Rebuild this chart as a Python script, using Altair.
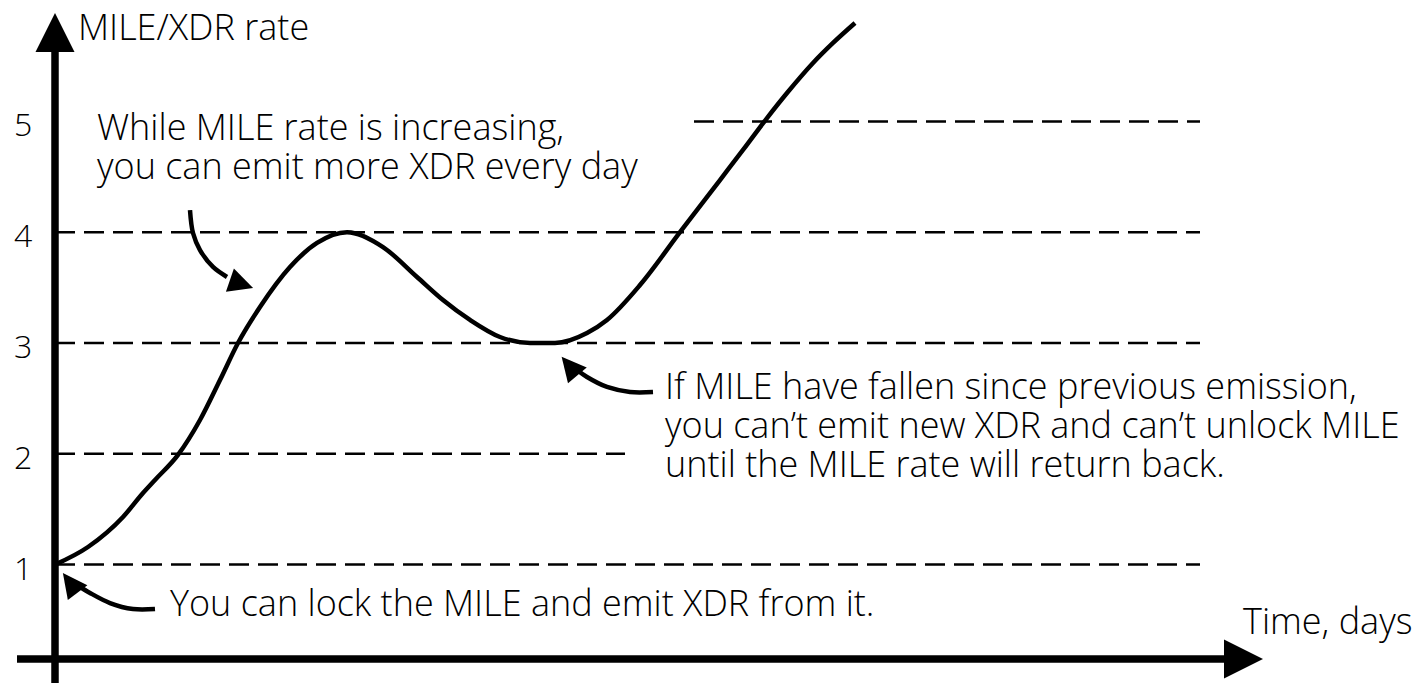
import altair as alt
import pandas as pd

# ---------------- data (x in days, y in MILE/XDR rate) ----------------
levels = [1, 2, 3, 4, 5]
level_start = [0.0, 0.0, 0.0, 0.0, 12.78]
level_end = [22.9, 11.4, 22.9, 22.9, 22.9]

curve_x = [0.0, 0.66, 1.36, 1.76, 2.0, 2.46, 2.9, 3.3, 3.66, 4.1, 4.7, 5.24, 5.84,
           6.56, 7.24, 7.76, 8.3, 8.9, 9.5, 10.0, 10.64, 11.04, 11.7, 12.5, 13.3,
           13.76, 14.24, 14.64, 15.16, 15.56, 16.0]
curve_y = [1.0, 1.159, 1.43, 1.646, 1.764, 1.99, 2.305, 2.666, 3.0, 3.325, 3.686, 3.903, 4.0,
           3.866, 3.596, 3.388, 3.208, 3.054, 3.0, 3.0, 3.09, 3.208, 3.523, 4.0, 4.471,
           4.742, 5.03, 5.256, 5.527, 5.708, 5.888]

tick_labels = ["1", "2", "3", "4", "5"]

# curved pointer arrows
arrow_a_x = [2.0, 1.56, 1.1, 0.7, 0.44]
arrow_a_y = [0.599, 0.599, 0.653, 0.744, 0.816]
arrow_b_x = [11.96, 11.5, 11.04, 10.64, 10.44]
arrow_b_y = [2.558, 2.558, 2.603, 2.693, 2.756]
arrow_c_x = [2.7, 2.76, 2.9, 3.16, 3.44]
arrow_c_y = [4.2, 3.993, 3.839, 3.686, 3.596]

head_x = [0.305, 10.29, 3.73, 0.0, 23.77]
head_y = [0.836, 2.792, 3.532, 5.802, 0.148]
head_angle = [323, 320, 109, 0, 0]
head_size = [600, 600, 600, 1521, 1521]
head_shape = ["M0,-1L1,1L-1,1Z", "M0,-1L1,1L-1,1Z", "M0,-1L1,1L-1,1Z",
              "M0,-1L1,1L-1,1Z", "M1,0L-1,-1L-1,1Z"]

note_text = ["MILE/XDR rate",
             "While MILE rate is increasing,",
             "you can emit more XDR every day",
             "If MILE have fallen since previous emission,",
             "you can\u2019t emit new XDR and can\u2019t unlock MILE",
             "until the MILE rate will return back.",
             "You can lock the MILE and emit XDR from it.",
             "Time, days"]
note_x = [0.46, 0.84, 0.84, 12.2, 12.2, 12.2, 2.3, 23.76]
note_y = [5.834, 4.931, 4.579, 2.594, 2.242, 1.89, 0.635, 0.473]

x_axis_y = 0.148
x_axis_from, x_axis_to = -0.76, 23.42
y_axis_x = 0.0
y_axis_from, y_axis_to = -0.0686, 5.626

# ---------------- chart ----------------
X_DOM = [-0.94, 27.24]
Y_DOM = [-0.0686, 6.0235]
xs = alt.Scale(domain=X_DOM, nice=False, zero=False)
ys = alt.Scale(domain=Y_DOM, nice=False, zero=False)
FONT = "Open Sans"
FS = 36

lv = pd.DataFrame({"level": levels, "x0": level_start, "x1": level_end})
dashed = alt.Chart(lv).mark_rule(strokeDash=[20, 9], strokeWidth=2.5, color="black").encode(
    x=alt.X("x0:Q", scale=xs, axis=None),
    x2="x1:Q",
    y=alt.Y("level:Q", scale=ys, axis=None),
)

cv = pd.DataFrame({"x": curve_x, "y": curve_y})
curve = alt.Chart(cv).mark_line(interpolate="monotone", strokeWidth=4.5, color="black").encode(
    x=alt.X("x:Q", scale=xs, axis=None),
    y=alt.Y("y:Q", scale=ys, axis=None),
)

ax = pd.DataFrame({
    "x0": [x_axis_from, y_axis_x], "x1": [x_axis_to, y_axis_x],
    "y0": [x_axis_y, y_axis_from], "y1": [x_axis_y, y_axis_to],
})
axes = alt.Chart(ax).mark_rule(strokeWidth=7.5, color="black").encode(
    x=alt.X("x0:Q", scale=xs, axis=None), x2="x1:Q",
    y=alt.Y("y0:Q", scale=ys, axis=None), y2="y1:Q",
)

rows = []
for name, xx, yy in [("a", arrow_a_x, arrow_a_y), ("b", arrow_b_x, arrow_b_y), ("c", arrow_c_x, arrow_c_y)]:
    for i, (a, b) in enumerate(zip(xx, yy)):
        rows.append({"g": name, "o": i, "x": a, "y": b})
ar = pd.DataFrame(rows)
pointers = alt.Chart(ar).mark_line(interpolate="catmull-rom", strokeWidth=4.5, color="black").encode(
    x=alt.X("x:Q", scale=xs, axis=None),
    y=alt.Y("y:Q", scale=ys, axis=None),
    detail="g:N",
    order="o:Q",
)

hd = pd.DataFrame({"x": head_x, "y": head_y, "angle": head_angle, "size": head_size, "shape": head_shape})
heads = alt.Chart(hd).mark_point(filled=True, color="black", opacity=1, strokeWidth=0).encode(
    x=alt.X("x:Q", scale=xs, axis=None),
    y=alt.Y("y:Q", scale=ys, axis=None),
    angle=alt.Angle("angle:Q", scale=None),
    size=alt.Size("size:Q", scale=None),
    shape=alt.Shape("shape:N", scale=None),
)

tk = pd.DataFrame({"label": tick_labels, "y": levels, "x": [-0.64] * 5})
ticks = alt.Chart(tk).mark_text(font=FONT, fontSize=32, fontWeight=300, align="center",
                                baseline="middle", dy=5, color="black").encode(
    x=alt.X("x:Q", scale=xs, axis=None),
    y=alt.Y("y:Q", scale=ys, axis=None),
    text="label:N",
)

nt = pd.DataFrame({"t": note_text, "x": note_x, "y": note_y})
notes = alt.Chart(nt).mark_text(font=FONT, fontSize=FS, fontWeight=300, align="left",
                                baseline="middle", color="black").encode(
    x=alt.X("x:Q", scale=xs, axis=None),
    y=alt.Y("y:Q", scale=ys, axis=None),
    text="t:N",
)

chart = alt.layer(dashed, curve, axes, pointers, heads, ticks, notes).properties(
    width=1409, height=675, padding=0, autosize=alt.AutoSizeParams(type="none"),
    background="white",
).configure_view(stroke=None)

chart.save("out.html", embed_options={"renderer": "svg", "actions": False})
